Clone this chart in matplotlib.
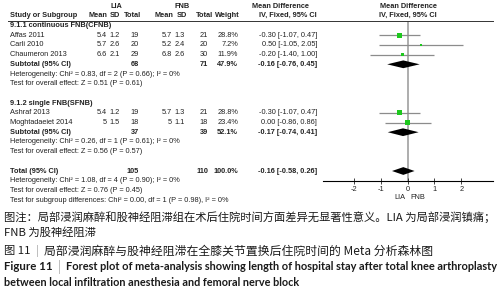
import matplotlib
matplotlib.use("Agg")
import matplotlib.pyplot as plt
import matplotlib.transforms as mtransforms

# ---- data: subgroup 9.1.1 continuous FNB
studies_1 = ["Affas 2011", "Carli 2010", "Chaumeron 2013"]
lia_mean_1 = [5.4, 5.7, 6.6]
lia_sd_1 = [1.2, 2.6, 2.1]
lia_n_1 = [19, 20, 29]
fnb_mean_1 = [5.7, 5.2, 6.8]
fnb_sd_1 = [1.3, 2.4, 2.6]
fnb_n_1 = [21, 20, 30]
weight_1 = [28.8, 7.2, 11.9]
md_1 = [-0.30, 0.50, -0.20]
lo_1 = [-1.07, -1.05, -1.40]
hi_1 = [0.47, 2.05, 1.00]

# ---- data: subgroup 9.1.2 single FNB
studies_2 = ["Ashraf 2013", "Moghtadaeiet 2014"]
lia_mean_2 = [5.4, 5]
lia_sd_2 = [1.2, 1.5]
lia_n_2 = [19, 18]
fnb_mean_2 = [5.7, 5]
fnb_sd_2 = [1.3, 1.1]
fnb_n_2 = [21, 18]
weight_2 = [28.8, 23.4]
md_2 = [-0.30, 0.00]
lo_2 = [-1.07, -0.86]
hi_2 = [0.47, 0.86]

# ---- pooled results: subtotal 1, subtotal 2, total
pooled_label = ["Subtotal (95% CI)", "Subtotal (95% CI)", "Total (95% CI)"]
pooled_lia_n = [68, 37, 105]
pooled_fnb_n = [71, 39, 110]
pooled_weight = [47.9, 52.1, 100.0]
pooled_md = [-0.16, -0.17, -0.16]
pooled_lo = [-0.76, -0.74, -0.58]
pooled_hi = [0.45, 0.41, 0.26]

group_titles = ["9.1.1 continuous FNB(CFNB)", "9.1.2 single FNB(SFNB)"]
het_lines = ["Heterogeneity: Chi\u00b2 = 0.83, df = 2 (P = 0.66); I\u00b2 = 0%",
             "Heterogeneity: Chi\u00b2 = 0.26, df = 1 (P = 0.61); I\u00b2 = 0%",
             "Heterogeneity: Chi\u00b2 = 1.08, df = 4 (P = 0.90); I\u00b2 = 0%"]
effect_lines = ["Test for overall effect: Z = 0.51 (P = 0.61)",
                "Test for overall effect: Z = 0.56 (P = 0.57)",
                "Test for overall effect: Z = 0.76 (P = 0.45)"]
subgroup_line = "Test for subgroup differences: Chi\u00b2 = 0.00, df = 1 (P = 0.98), I\u00b2 = 0%"

x_ticks = [-2, -1, 0, 1, 2]
x_labels = ["-2", "-1", "0", "1", "2"]

W, H = 504, 300
fig = plt.figure(figsize=(W / 100, H / 100), dpi=100)
fig.patch.set_facecolor("white")

# row layout (row index -> pixel): r0 = first group title
Y0, DY = 25.5, 9.7
r_top, r_bot = -0.5, 16.0
top_px = Y0 + DY * r_top
bot_px = Y0 + DY * r_bot
ax = fig.add_axes([323 / W, 1 - bot_px / H, 170 / W, (bot_px - top_px) / H])
ax.set_xlim(-3.15, 3.18)
ax.set_ylim(r_bot, r_top)

tr = mtransforms.blended_transform_factory(fig.transFigure, ax.transData)
TXT = "#222222"
FS = 5.3


def put(px, r, s, ha="left", bold=False, size=FS):
    ax.text(px / W, r, s, transform=tr, ha=ha, va="center", fontsize=size,
            fontweight="bold" if bold else "normal", color=TXT,
            family="Liberation Sans", clip_on=False)


# headers
put(116, -2, "LIA", ha="center", bold=True)
put(182, -2, "FNB", ha="center", bold=True)
put(280, -2, "Mean Difference", ha="center", bold=True)
put(408, -2, "Mean Difference", ha="center", bold=True)
put(10, -1, "Study or Subgroup", bold=True)
for px, s in [(107, "Mean"), (120, "SD"), (141, "Total"), (173, "Mean"),
              (187, "SD"), (213, "Total"), (240, "Weight"), (317, "IV, Fixed, 95% CI")]:
    put(px, -1, s, ha="right", bold=True)
put(408, -1, "IV, Fixed, 95% CI", ha="center", bold=True)
ax.plot([8 / W, 493 / W], [r_top, r_top], transform=tr, color="#333333",
        lw=0.7, clip_on=False)

# zero line
ax.axvline(0, color="#a0a0a0", lw=1.2, zorder=1)

groups = [
    (studies_1, lia_mean_1, lia_sd_1, lia_n_1, fnb_mean_1, fnb_sd_1, fnb_n_1,
     weight_1, md_1, lo_1, hi_1, 0),
    (studies_2, lia_mean_2, lia_sd_2, lia_n_2, fnb_mean_2, fnb_sd_2, fnb_n_2,
     weight_2, md_2, lo_2, hi_2, 8),
]


def diamond(md, lo, hi, r, h=0.4):
    ax.fill([lo, md, hi, md], [r, r - h, r, r + h], color="black", zorder=3,
            lw=0)


for gi, (names, lm, ls, ln, fm, fs, fn, wt, md, lo, hi, r0) in enumerate(groups):
    put(10, r0, group_titles[gi], bold=True)
    rows = [r0 + 1 + i for i in range(len(names))]
    for i, r in enumerate(rows):
        put(10, r, names[i])
        put(107, r, f"{lm[i]:g}", ha="right")
        put(120, r, f"{ls[i]:g}", ha="right")
        put(139, r, f"{ln[i]}", ha="right")
        put(172, r, f"{fm[i]:g}", ha="right")
        put(185, r, f"{fs[i]:g}", ha="right")
        put(208, r, f"{fn[i]}", ha="right")
        put(238, r, f"{wt[i]:.1f}%", ha="right")
        put(317, r, f"{md[i]:.2f} [{lo[i]:.2f}, {hi[i]:.2f}]", ha="right")
    ax.hlines(rows, lo, hi, color="#8c8c8c", lw=0.9, zorder=2)
    ax.scatter(md, rows, marker="s", s=[w * 0.5 for w in wt], color="#1ec81e",
               lw=0, zorder=4)
    rs = r0 + len(names) + 1
    put(10, rs, pooled_label[gi], bold=True)
    put(139, rs, f"{pooled_lia_n[gi]}", ha="right", bold=True)
    put(208, rs, f"{pooled_fnb_n[gi]}", ha="right", bold=True)
    put(238, rs, f"{pooled_weight[gi]:.1f}%", ha="right", bold=True)
    put(317, rs, f"{pooled_md[gi]:.2f} [{pooled_lo[gi]:.2f}, {pooled_hi[gi]:.2f}]",
        ha="right", bold=True)
    diamond(pooled_md[gi], pooled_lo[gi], pooled_hi[gi], rs)
    put(10, rs + 1, het_lines[gi])
    put(10, rs + 2, effect_lines[gi])

# overall
rt = 15
put(10, rt, pooled_label[2], bold=True)
put(139, rt, f"{pooled_lia_n[2]}", ha="right", bold=True)
put(208, rt, f"{pooled_fnb_n[2]}", ha="right", bold=True)
put(238, rt, f"{pooled_weight[2]:.1f}%", ha="right", bold=True)
put(317, rt, f"{pooled_md[2]:.2f} [{pooled_lo[2]:.2f}, {pooled_hi[2]:.2f}]",
    ha="right", bold=True)
diamond(pooled_md[2], pooled_lo[2], pooled_hi[2], rt)
put(10, rt + 1, het_lines[2])
put(10, rt + 2, effect_lines[2])
put(10, rt + 3, subgroup_line)

# axis styling
for side in ["top", "left", "right"]:
    ax.spines[side].set_visible(False)
ax.spines["bottom"].set_linewidth(0.8)
ax.set_yticks([])
ax.set_xticks(x_ticks)
ax.set_xticklabels(x_labels, family="Liberation Sans")
ax.tick_params(axis="x", direction="inout", length=5, width=0.6, labelsize=FS,
               pad=1, colors=TXT)
ax.patch.set_alpha(0)
ax.text(-0.1, 17.7, "LIA", ha="right", va="center", fontsize=FS, color=TXT,
        family="Liberation Sans", clip_on=False)
ax.text(0.1, 17.7, "FNB", ha="left", va="center", fontsize=FS, color=TXT,
        family="Liberation Sans", clip_on=False)

# captions
CJK = ["Noto Sans CJK SC", "DejaVu Sans"]
LAT = ["Lato", "DejaVu Sans"]
fig.canvas.draw()
rend = fig.canvas.get_renderer()


def cap(px, py, s, family, size=8, width=None, bold=False, color="#1a1a1a"):
    # returns (fontsize, right edge in px)
    t = fig.text(px / W, 1 - py / H, s, ha="left", va="center", fontsize=size,
                 family=family, fontweight="bold" if bold else "normal",
                 color=color)
    if width:
        w = t.get_window_extent(renderer=rend).width
        t.set_fontsize(size * width / w)
    bb = t.get_window_extent(renderer=rend)
    return t.get_fontsize(), bb.x1


fz, _ = cap(4, 217, "图注：局部浸润麻醉和股神经阻滞组在术后住院时间方面差异无显著性意义。LIA 为局部浸润镇痛；",
            CJK, width=494)
cap(4, 233, "FNB 为股神经阻滞", CJK, size=fz)
_, x1 = cap(4, 251, "图 11", CJK, size=fz)
_, x2 = cap(x1 + 5, 251, "|", CJK, size=fz, color="#aaaaaa")
cap(x2 + 5, 251, "局部浸润麻醉与股神经阻滞在全膝关节置换后住院时间的 Meta 分析森林图",
    CJK, width=432 - (x2 + 5))
fe, x1 = cap(4, 267, "Figure 11", LAT, size=8.3, bold=True)
_, x2 = cap(x1 + 5, 267, "|", CJK, size=fe, color="#aaaaaa")
cap(x2 + 5, 267, "Forest plot of meta-analysis showing length of hospital stay after total knee arthroplasty",
    LAT, size=8, width=500 - (x2 + 5), bold=True)
cap(4, 283, "between local infiltration anesthesia and femoral nerve block", LAT,
    size=8, width=298, bold=True)

fig.savefig("out.png", dpi=100)
